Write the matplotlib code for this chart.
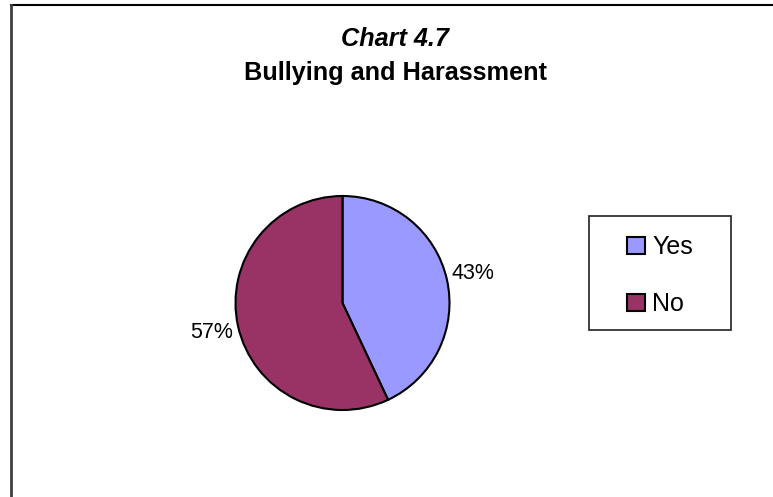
import matplotlib
matplotlib.use("Agg")
import matplotlib.pyplot as plt
from matplotlib.lines import Line2D
from matplotlib.patches import Rectangle

labels = ["Yes", "No"]
shares = [43, 57]
colors = ["#9999FF", "#993366"]

W, H = 773, 497
plt.rcParams["font.family"] = ["Liberation Sans", "DejaVu Sans"]

fig = plt.figure(figsize=(W / 100, H / 100), dpi=100)

# outer frame: top and left edges only
fig.add_artist(Line2D([10.5 / W, 1], [1 - 5 / H, 1 - 5 / H], color="black", lw=1.5))
fig.add_artist(Line2D([10.5 / W, 10.5 / W], [0, 1 - 5 / H], color="#404040", lw=2))

fig.text(395 / W, 1 - 46 / H, "Chart 4.7", ha="center", va="baseline",
         fontsize=18.2, fontweight="bold", fontstyle="italic")
fig.text(395 / W, 1 - 80 / H, "Bullying and Harassment", ha="center", va="baseline",
         fontsize=18.2, fontweight="bold")

# pie centre and radius in pixels
cx, cy, r = 342.5, 303, 107
ax = fig.add_axes([(cx - r) / W, (H - cy - r) / H, 2 * r / W, 2 * r / H])
wedges, _, autotexts = ax.pie(
    shares, colors=colors, startangle=90, counterclock=False,
    autopct=lambda p: f"{p:.0f}%", pctdistance=1.25,
    wedgeprops=dict(edgecolor="black", linewidth=1.5),
    textprops=dict(fontsize=15.5),
)
ax.set_xlim(-1, 1)
ax.set_ylim(-1, 1)
for w in wedges:
    w.set_clip_on(False)

# legend box drawn separately so its padding can be set freely
fig.add_artist(Rectangle((589 / W, 1 - 330 / H), 142 / W, 114 / H,
                         transform=fig.transFigure, fill=False,
                         edgecolor="#202020", lw=1.2))
leg = fig.legend(
    wedges, labels, loc="upper left", bbox_to_anchor=(627 / W, 1 - 235 / H),
    fontsize=18, frameon=False,
    handlelength=0.7, handleheight=0.7, handletextpad=0.3,
    labelspacing=1.32, borderpad=0, borderaxespad=0,
)
for h in leg.legend_handles:
    h.set_linewidth(1.5)

fig.savefig("out.png", dpi=100)
